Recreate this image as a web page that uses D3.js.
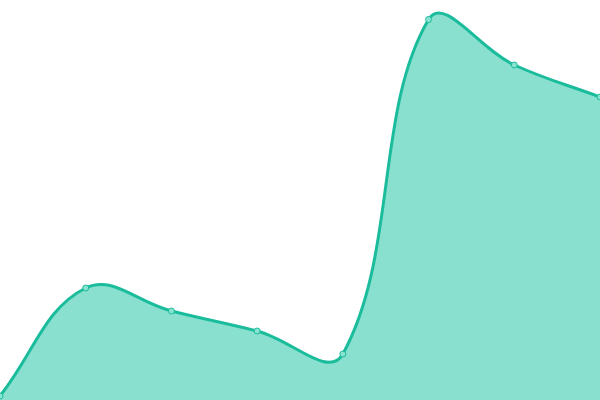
<!DOCTYPE html>
<html>
<head>
<meta charset="utf-8">
<script src="https://cdn.jsdelivr.net/npm/d3@7"></script>
<style>
  html, body { margin: 0; padding: 0; background: #fff; }
  svg { display: block; }
</style>
</head>
<body>
<svg id="chart" width="600" height="400"></svg>
<script>
// data (value scale 0..400, bottom = 0)
const labels = ["A", "B", "C", "D", "E", "F", "G", "H"];
const values = [4, 112, 89, 69, 46, 380.5, 335, 303];

const width = 600, height = 400;
const tension = 0.4;
const svg = d3.select("#chart");

const x = d3.scalePoint()
	.domain(labels)
	.range([0, width]);

const y = d3.scaleLinear()
	.domain([0, 400])
	.range([height, 0]);

const pts = labels.map((l, i) => ({ label: l, value: values[i], px: x(l), py: y(values[i]) }));

// spline with distance-weighted control points
function controlPoints(p) {
	return p.map((cur, i) => {
		const prev = p[i - 1] || cur, next = p[i + 1] || cur;
		const d01 = Math.hypot(cur.px - prev.px, cur.py - prev.py);
		const d12 = Math.hypot(next.px - cur.px, next.py - cur.py);
		let s01 = d01 / (d01 + d12), s12 = d12 / (d01 + d12);
		if (isNaN(s01)) s01 = 0;
		if (isNaN(s12)) s12 = 0;
		const fa = tension * s01, fb = tension * s12;
		return {
			inX: cur.px - fa * (next.px - prev.px),
			inY: cur.py - fa * (next.py - prev.py),
			outX: cur.px + fb * (next.px - prev.px),
			outY: cur.py + fb * (next.py - prev.py)
		};
	});
}

function splinePath(p, closeArea) {
	const cp = controlPoints(p);
	const path = d3.path();
	path.moveTo(p[0].px, p[0].py);
	for (let i = 1; i < p.length; i++) {
		path.bezierCurveTo(cp[i - 1].outX, cp[i - 1].outY, cp[i].inX, cp[i].inY, p[i].px, p[i].py);
	}
	if (closeArea) {
		path.lineTo(p[p.length - 1].px, y(0));
		path.lineTo(p[0].px, y(0));
		path.closePath();
	}
	return path.toString();
}

svg.append("path")
	.attr("d", splinePath(pts, true))
	.attr("fill", "#89e0cf");

svg.append("path")
	.attr("d", splinePath(pts, false))
	.attr("fill", "none")
	.attr("stroke", "#1abc9c")
	.attr("stroke-width", 3);

svg.selectAll("circle")
	.data(pts)
	.enter()
	.append("circle")
	.attr("cx", d => d.px)
	.attr("cy", d => d.py)
	.attr("r", 3)
	.attr("fill", "#8ae2d1")
	.attr("stroke", "#1abc9c")
	.attr("stroke-width", 1);
</script>
</body>
</html>
